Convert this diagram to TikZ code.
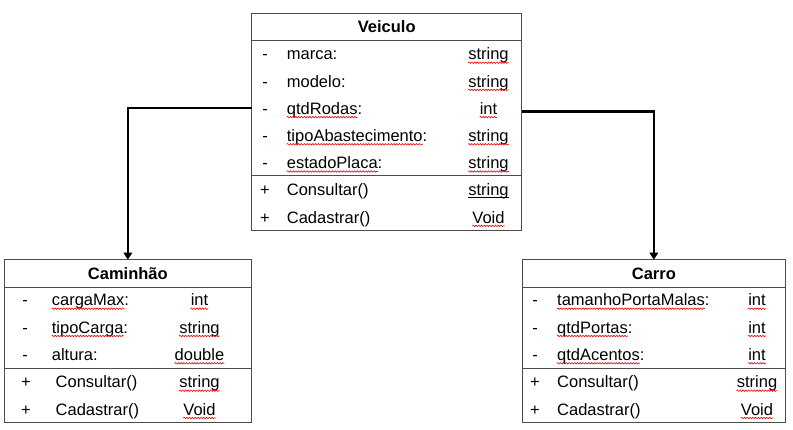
\documentclass[tikz,border=0pt]{standalone}
\usepackage{fontspec}
\setmainfont{Liberation Sans}
\usetikzlibrary{arrows.meta, positioning, decorations.pathmorphing}
\newcommand{\umlsize}{\fontsize{16.5}{19}\selectfont}
\tikzset{
  compart/.style={draw=black!70, line width=0.9pt, outer sep=0pt, inner sep=0pt},
  spellwave/.style={draw=red, line width=0.6pt, decorate,
    decoration={snake, amplitude=0.75pt, segment length=2.8pt}},
  spell/.style={append after command={([yshift=-2.7pt]\tikzlastnode.base west)
    edge[spellwave] ([yshift=-2.7pt]\tikzlastnode.base east)}},
  spellc/.style={append after command={([yshift=-2.7pt]\tikzlastnode.base west)
    edge[spellwave] ([yshift=-2.7pt,xshift=-4.6pt]\tikzlastnode.base east)}},
  nospell/.style={},
  uline/.style={append after command={([yshift=-1.5pt]\tikzlastnode.base west)
    edge[draw=black, line width=0.9pt] ([yshift=-1.5pt]\tikzlastnode.base east)}},
  inherit/.style={line width=2.6pt, -{Triangle[length=7pt,width=8.5pt]}}
}

\begin{document}
\begin{tikzpicture}[x=1pt, y=-1pt, every node/.style={font=\umlsize, inner sep=0pt}]
  \useasboundingbox (0,0) rectangle (793,430);

  % Veiculo
  \node[compart, minimum width=270pt, minimum height=27.4pt] (vhead) at (386.7,27) {\textbf{Veiculo}};
  \node[compart, minimum width=270pt, minimum height=135pt, below=0pt of vhead] (vattr) {};
  \node[compart, minimum width=270pt, minimum height=55pt, below=0pt of vattr] (vmeth) {};
  \foreach \r/\n/\ns/\t/\ts in {1/marca:/nospell/string/spell, 2/modelo:/nospell/string/spell,
      3/qtdRodas:/spellc/int/spell, 4/tipoAbastecimento:/spellc/string/spell,
      5/estadoPlaca:/spellc/string/spell}{
    \node[anchor=base] (vm\r) at (265,{60+(\r-1)*27.2}) {-};
    \node[anchor=base west,\ns] (vn\r) at (286.7,{60+(\r-1)*27.2}) {\n};
    \node[anchor=base,\ts] (vt\r) at (488.5,{60+(\r-1)*27.2}) {\t};
  }
  \foreach \r/\n/\t/\ts in {1/Consultar()/string/uline, 2/Cadastrar()/Void/spell}{
    \node[anchor=base] (vp\r) at (265,{196+(\r-1)*27.2}) {+};
    \node[anchor=base west] (vo\r) at (286.7,{196+(\r-1)*27.2}) {\n};
    \node[anchor=base,\ts] (vr\r) at (488.5,{196+(\r-1)*27.2}) {\t};
  }

  % Caminhao
  \node[compart, minimum width=246.3pt, minimum height=27.3pt] (chead) at (127.85,273.35) {\textbf{Caminhão}};
  \node[compart, minimum width=246.3pt, minimum height=81.3pt, below=0pt of chead] (cattr) {};
  \node[compart, minimum width=246.3pt, minimum height=54pt, below=0pt of cattr] (cmeth) {};
  \foreach \r/\n/\ns/\t/\ts in {1/cargaMax:/spellc/int/spell, 2/tipoCarga:/spellc/string/spell,
      3/altura:/nospell/double/spell}{
    \node[anchor=base] (cm\r) at (25,{306+(\r-1)*27.3}) {-};
    \node[anchor=base west,\ns] (cn\r) at (51.7,{306+(\r-1)*27.3}) {\n};
    \node[anchor=base,\ts] (ct\r) at (199.5,{306+(\r-1)*27.3}) {\t};
  }
  \foreach \r/\n/\t in {1/Consultar()/string, 2/Cadastrar()/Void}{
    \node[anchor=base] (cp\r) at (26,{388+(\r-1)*27.3}) {+};
    \node[anchor=base west] (co\r) at (55.5,{388+(\r-1)*27.3}) {\n};
    \node[anchor=base,spell] (cr\r) at (199.5,{388+(\r-1)*27.3}) {\t};
  }

  % Carro
  \node[compart, minimum width=263.7pt, minimum height=27.3pt] (khead) at (653.85,273.35) {\textbf{Carro}};
  \node[compart, minimum width=263.7pt, minimum height=81.3pt, below=0pt of khead] (kattr) {};
  \node[compart, minimum width=263.7pt, minimum height=54pt, below=0pt of kattr] (kmeth) {};
  \foreach \r/\n in {1/tamanhoPortaMalas:, 2/qtdPortas:, 3/qtdAcentos:}{
    \node[anchor=base] (km\r) at (535,{306+(\r-1)*27.3}) {-};
    \node[anchor=base west,spellc] (kn\r) at (557,{306+(\r-1)*27.3}) {\n};
    \node[anchor=base,spell] (kt\r) at (757,{306+(\r-1)*27.3}) {int};
  }
  \foreach \r/\n/\t in {1/Consultar()/string, 2/Cadastrar()/Void}{
    \node[anchor=base] (kp\r) at (535,{388+(\r-1)*27.3}) {+};
    \node[anchor=base west] (ko\r) at (557,{388+(\r-1)*27.3}) {\n};
    \node[anchor=base,spell] (kr\r) at (757,{388+(\r-1)*27.3}) {\t};
  }

  % heranca
  \draw[inherit] (vattr.west) -| (chead.north);
  \draw[inherit] ([yshift=-3.5pt]vattr.east) -| (khead.north);
\end{tikzpicture}
\end{document}
